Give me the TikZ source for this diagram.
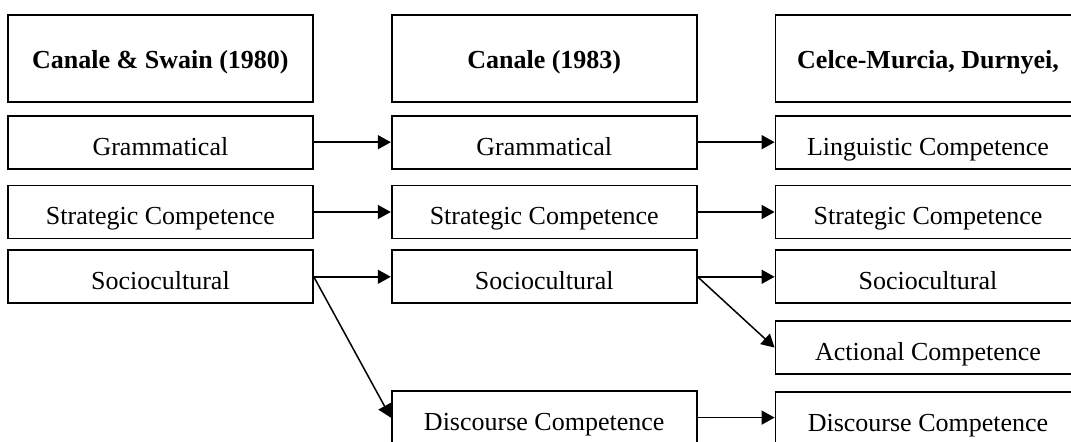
\documentclass[tikz,border=0pt]{standalone}
\usepackage{fontspec}
\setmainfont{Liberation Serif}
\usetikzlibrary{arrows.meta, positioning}

\begin{document}
\begin{tikzpicture}[
	head/.style={rectangle, draw, line width=0.9pt, minimum width=152.5pt, minimum height=43.5pt, inner sep=0pt, text height=10pt, text depth=0pt, align=center, font=\fontsize{13}{15}\selectfont\bfseries},
	comp/.style={rectangle, draw, line width=0.9pt, minimum width=152.5pt, minimum height=26.5pt, inner sep=0pt, text height=13pt, text depth=0pt, align=center, font=\fontsize{13}{15}\selectfont},
	arrow/.style={-{Triangle[length=6.5pt, width=7pt]}, line width=0.75pt},
	node distance=6pt and 38.5pt
]
	\clip (0,0) rectangle (535.5pt,-221pt);
	\node[head, anchor=north west] (hdrA) at (3.5pt,-7pt) {Canale \& Swain (1980)};
	\node[head, right=of hdrA] (hdrB) {Canale (1983)};
	\node[head, right=of hdrB] (hdrC) {Celce-Murcia, Durnyei,};

	\node[comp, below=of hdrA] (gramA) {Grammatical};
	\node[comp, below=7.5pt of gramA] (stratA) {Strategic Competence};
	\node[comp, below=5pt of stratA] (socioA) {Sociocultural};

	\node[comp, below=of hdrB] (gramB) {Grammatical};
	\node[comp, below=7.5pt of gramB] (stratB) {Strategic Competence};
	\node[comp, below=5pt of stratB] (socioB) {Sociocultural};
	\node[comp, below=43pt of socioB] (discB) {Discourse Competence};

	\node[comp, below=of hdrC] (lingC) {Linguistic Competence};
	\node[comp, below=7.5pt of lingC] (stratC) {Strategic Competence};
	\node[comp, below=5pt of stratC] (socioC) {Sociocultural};
	\node[comp, below=8pt of socioC] (actC) {Actional Competence};
	\node[comp, below=8pt of actC] (discC) {Discourse Competence};

	\draw[arrow] (gramA) -- (gramB);
	\draw[arrow] (stratA) -- (stratB);
	\draw[arrow] (socioA) -- (socioB);
	\draw[arrow] (socioA.east) -- (discB.west);
	\draw[arrow] (gramB) -- (lingC);
	\draw[arrow] (stratB) -- (stratC);
	\draw[arrow] (socioB) -- (socioC);
	\draw[arrow] (socioB.east) -- (actC.west);
	\draw[arrow] (discB) -- (discB -| discC.west);
\end{tikzpicture}
\end{document}
